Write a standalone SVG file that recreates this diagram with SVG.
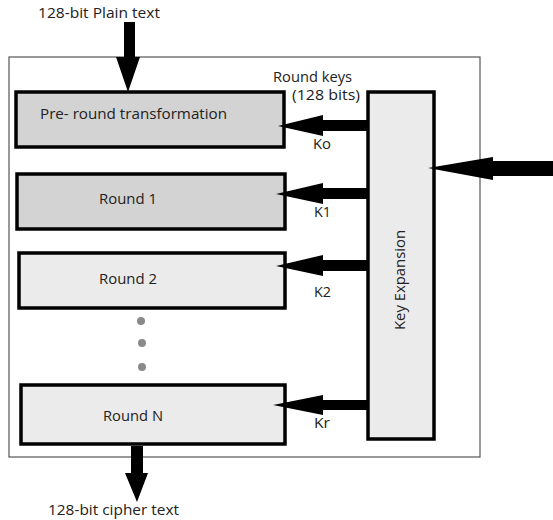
<svg xmlns="http://www.w3.org/2000/svg" width="553" height="520" viewBox="0 0 553 520">
<style>
text{font-family:"Open Sans","Noto Sans","DejaVu Sans",sans-serif;font-size:14.5px;fill:#222}
.box{stroke:#000;stroke-width:3.5}
.dark{fill:#d3d3d3}
.light{fill:#ebebeb}
.arr{fill:#000}
.dot{fill:#8a8a8a}
</style>
<rect width="553" height="520" fill="#fff"/>
<rect id="outer" x="9" y="57" width="471" height="400" fill="none" stroke="#555" stroke-width="1.2"/>
<g id="pre"><rect class="box dark" x="16" y="92" width="268" height="55"/><text x="40" y="119" textLength="187" lengthAdjust="spacingAndGlyphs">Pre- round transformation</text></g>
<g id="r1"><rect class="box dark" x="17" y="174" width="268" height="55"/><text x="99" y="204" textLength="58" lengthAdjust="spacingAndGlyphs">Round 1</text></g>
<g id="r2"><rect class="box light" x="19" y="253" width="266" height="55"/><text x="99" y="284" textLength="58" lengthAdjust="spacingAndGlyphs">Round 2</text></g>
<g id="dots"><circle class="dot" cx="141" cy="321" r="4"/><circle class="dot" cx="142" cy="343" r="4"/><circle class="dot" cx="142" cy="367" r="4"/></g>
<g id="rn"><rect class="box light" x="21" y="385" width="264" height="59"/><text x="103" y="421" textLength="60" lengthAdjust="spacingAndGlyphs">Round N</text></g>
<g id="kex"><rect class="box light" x="368" y="92" width="66" height="347"/><text transform="translate(405,280) rotate(-90)" text-anchor="middle" textLength="100" lengthAdjust="spacingAndGlyphs">Key Expansion</text></g>
<g id="labels">
<text x="38" y="18" textLength="122" lengthAdjust="spacingAndGlyphs">128-bit Plain text</text>
<text x="273" y="82" textLength="79" lengthAdjust="spacingAndGlyphs">Round keys</text>
<text x="292" y="100" textLength="68" lengthAdjust="spacingAndGlyphs">(128 bits)</text>
<text x="313" y="149" textLength="18" lengthAdjust="spacingAndGlyphs">Ko</text>
<text x="314" y="217" textLength="17" lengthAdjust="spacingAndGlyphs">K1</text>
<text x="314" y="297" textLength="17" lengthAdjust="spacingAndGlyphs">K2</text>
<text x="314" y="428" textLength="16" lengthAdjust="spacingAndGlyphs">Kr</text>
<text x="48" y="515" textLength="131" lengthAdjust="spacingAndGlyphs">128-bit cipher text</text>
</g>
<g id="connectors">
<polygon class="arr" points="124,22 135,22 135,57 140,57 128,92 116,57 124,57"/>
<polygon class="arr" points="131,446 143,446 143,473 148,473 137,502 125,473 131,473"/>
<polygon class="arr" points="368,120 323,120 323,115 278,126 323,136 323,131 368,131"/>
<polygon class="arr" points="368,188 323,188 323,183 276,194 323,204 323,199 368,199"/>
<polygon class="arr" points="368,260 323,260 323,255 276,266 323,276 323,271 368,271"/>
<polygon class="arr" points="368,400 323,400 323,395 273,405 323,415 323,410 368,410"/>
<polygon class="arr" points="553,161 493,161 493,157 428,168 493,180 493,176 553,176"/>
</g>
</svg>
